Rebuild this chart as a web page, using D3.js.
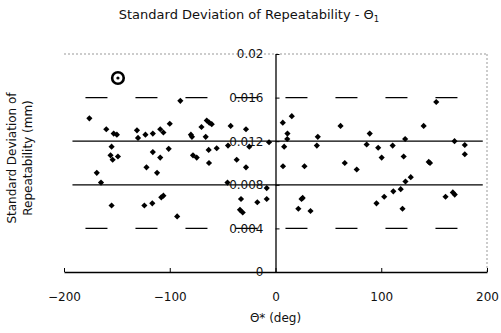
<!DOCTYPE html>
<html>
<head>
<meta charset="utf-8">
<script src="https://cdn.jsdelivr.net/npm/d3@7"></script>
<style>
  body { margin: 0; background: #fff; }
  svg text { font-family: "DejaVu Sans", sans-serif; fill: #111; }
</style>
</head>
<body>
<svg id="chart" width="501" height="333"></svg>
<script>
// measured points (theta in deg, std dev in mm)
var thetaDeg = [-176, -169, -165, -160, -155, -155, -156, -154, -149, -153, -150, -131, -130, -123, -124, -122,
  -116, -116, -116.5, -112, -109, -109, -108, -106, -106, -101, -100, -93, -90, -80, -79, -78, -74.5, -70,
  -66, -65, -62.6, -60.3, -63.2, -62.9, -55.6, -42.4, -44.9, -45.4, -36.7, -27.9, -24.8, -27.9, -32.6, -33.6,
  -31, -17.2, -8.3, -8.3, -6.1,
  6.9, 15.4, 11.3, 11.1, 8.2, 7.1, 27.4, 40, 39.1, 61.5, 65.5, 76.8, 89.1, 86.2, 97.1, 100.4, 110.8, 121.2,
  122.6, 140.1, 144.9, 146.1, 152, 169.3, 179, 179, 25.7, 24.6, 21.6, 33.1, 95.5, 102.8, 111.4, 118.4, 122.9,
  127.9, 120.1, 160.8, 167.7, 169.5];
var sdRepeat = [0.0141, 0.0091, 0.0082, 0.0131, 0.0061, 0.0115, 0.0107, 0.0103, 0.0106, 0.0127, 0.0126, 0.0130,
  0.0123, 0.0126, 0.0061, 0.0096, 0.0127, 0.0110, 0.0063, 0.0091, 0.0131, 0.0105, 0.00685, 0.0070, 0.0128,
  0.0113, 0.0136, 0.0051, 0.0157, 0.0126, 0.0124, 0.0107, 0.0105, 0.0133, 0.0124, 0.0139, 0.0137, 0.01356,
  0.0112, 0.0100, 0.01135, 0.0134, 0.0116, 0.0082, 0.0103, 0.0131, 0.0115, 0.0096, 0.0067, 0.0057, 0.00546,
  0.0064, 0.0067, 0.0077, 0.0119,
  0.0137, 0.0143, 0.0127, 0.0122, 0.0115, 0.0097, 0.0097, 0.0124, 0.0116, 0.0134, 0.0100, 0.0094, 0.0127,
  0.0117, 0.0114, 0.0105, 0.0116, 0.0106, 0.0122, 0.0134, 0.0101, 0.0100, 0.0156, 0.0120, 0.01165, 0.0108,
  0.0068, 0.0067, 0.0058, 0.0056, 0.0063, 0.0069, 0.0074, 0.0076, 0.0083, 0.0087, 0.0058, 0.0069, 0.0073, 0.0071];

// flagged point (circled marker)
var flaggedTheta = [-149];
var flaggedSd = [0.0178];

var xTicks = [-200, -100, 0, 100, 200];
var yTicks = [0, 0.004, 0.008, 0.012, 0.016, 0.02];
var solidLevels = [0.008, 0.012];
var dashedLevels = [0.004, 0.016];
var levelSpan = [-192, 196];

var svg = d3.select("#chart");

var x = d3.scaleLinear().domain([-200, 200]).range([64, 487]);
var y = d3.scaleLinear().domain([0, 0.02]).range([272, 54]);

// dotted frame top / right
svg.append("line")
  .attr("x1", x(-200)).attr("x2", x(200))
  .attr("y1", y(0.02)).attr("y2", y(0.02))
  .attr("stroke", "#999").attr("stroke-dasharray", "2,2");
svg.append("line")
  .attr("x1", x(200)).attr("x2", x(200))
  .attr("y1", y(0.02)).attr("y2", y(0))
  .attr("stroke", "#999").attr("stroke-dasharray", "2,2");

// level lines
svg.selectAll(".solid-level")
  .data(solidLevels)
  .enter().append("line")
  .attr("class", "solid-level")
  .attr("x1", x(levelSpan[0])).attr("x2", x(levelSpan[1]))
  .attr("y1", d => y(d)).attr("y2", d => y(d))
  .attr("stroke", "#000").attr("stroke-width", 1.3);

svg.selectAll(".dash-level")
  .data(dashedLevels)
  .enter().append("line")
  .attr("class", "dash-level")
  .attr("x1", x(levelSpan[0])).attr("x2", x(levelSpan[1]))
  .attr("y1", d => y(d)).attr("y2", d => y(d))
  .attr("stroke", "#000").attr("stroke-width", 1.3)
  .attr("stroke-dasharray", "22,28")
  .attr("stroke-dashoffset", 37);

// axes
svg.append("g")
  .attr("transform", "translate(0," + y(0) + ")")
  .call(d3.axisBottom(x).tickValues(xTicks).tickSize(-4).tickSizeOuter(0).tickPadding(20));

svg.append("g")
  .attr("transform", "translate(" + x(0) + ",0)")
  .call(d3.axisLeft(y).tickValues(yTicks).tickSize(-4).tickSizeOuter(0).tickPadding(12)
    .tickFormat(d => d === 0 ? "0" : d3.format("")(+d.toFixed(3))));

svg.selectAll(".tick text").style("font-size", "12px").style("font-family", "DejaVu Sans, sans-serif");
svg.selectAll(".domain").attr("stroke", "#000").attr("stroke-width", 1.3);
svg.selectAll(".tick line").attr("stroke", "#000");

// points
var diamond = d3.symbol().type(d3.symbolSquare).size(19);
svg.append("g")
  .selectAll("path")
  .data(thetaDeg.map((t, i) => [t, sdRepeat[i]]))
  .enter().append("path")
  .attr("d", diamond)
  .attr("transform", d => "translate(" + x(d[0]) + "," + y(d[1]) + ") rotate(45)")
  .attr("fill", "#000");

// circled marker
var flagged = svg.append("g")
  .selectAll("g")
  .data(flaggedTheta.map((t, i) => [t, flaggedSd[i]]))
  .enter().append("g")
  .attr("transform", d => "translate(" + x(d[0]) + "," + y(d[1]) + ")");
flagged.append("circle").attr("r", 5.8).attr("fill", "#fff").attr("stroke", "#000").attr("stroke-width", 2.6);
flagged.append("circle").attr("r", 1.6).attr("fill", "#000");

// titles
svg.append("text")
  .attr("x", 249).attr("y", 19)
  .attr("text-anchor", "middle")
  .style("font-size", "13px")
  .text("Standard Deviation of Repeatability - Θ")
  .append("tspan").attr("dy", 3).style("font-size", "8.5px").text("1");

svg.append("text")
  .attr("x", x(0)).attr("y", 322)
  .attr("text-anchor", "middle")
  .style("font-size", "12px")
  .text("Θ* (deg)");

var yTitle = svg.append("text")
  .attr("transform", "translate(16,158) rotate(-90)")
  .attr("text-anchor", "middle")
  .style("font-size", "12px");
yTitle.append("tspan").attr("x", 0).attr("dy", 0).text("Standard Deviation of");
yTitle.append("tspan").attr("x", 0).attr("dy", 16).text("Repeatability (mm)");
</script>
</body>
</html>
